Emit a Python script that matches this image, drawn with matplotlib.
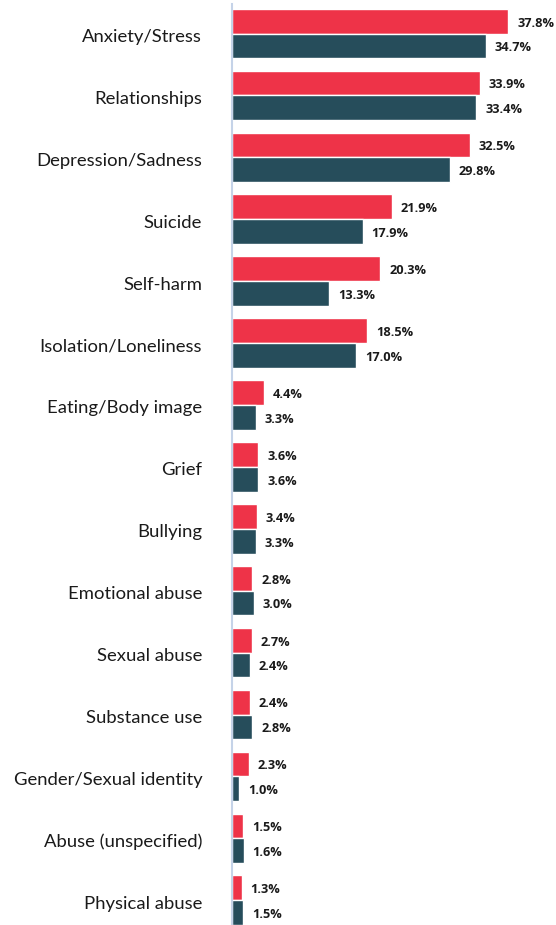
import numpy as np
import matplotlib.pyplot as plt

categories = ["Anxiety/Stress", "Relationships", "Depression/Sadness", "Suicide",
              "Self-harm", "Isolation/Loneliness", "Eating/Body image", "Grief",
              "Bullying", "Emotional abuse", "Sexual abuse", "Substance use",
              "Gender/Sexual identity", "Abuse (unspecified)", "Physical abuse"]
red_vals = [37.8, 33.9, 32.5, 21.9, 20.3, 18.5, 4.4, 3.6, 3.4, 2.8, 2.7, 2.4, 2.3, 1.5, 1.3]
teal_vals = [34.7, 33.4, 29.8, 17.9, 13.3, 17.0, 3.3, 3.6, 3.3, 3.0, 2.4, 2.8, 1.0, 1.6, 1.5]

red = "#EE3348"
teal = "#264D5B"

fig = plt.figure(figsize=(5.56, 9.25), dpi=100)
ax = fig.add_axes([232/556, 0, 1 - 232/556, 921/925])

y = np.arange(len(categories))
off = 0.2
h = 0.4
ax.barh(y - off, red_vals, height=h, color=red, edgecolor="white", linewidth=1)
ax.barh(y + off, teal_vals, height=h, color=teal, edgecolor="white", linewidth=1)

for i in range(len(categories)):
    ax.text(red_vals[i] + 1.2, y[i] - off + 0.03, f"{red_vals[i]:.1f}%", va="center",
            ha="left", fontsize=9.2, fontweight="bold", family="Open Sans", color="#1a1a1a")
    ax.text(teal_vals[i] + 1.2, y[i] + off + 0.03, f"{teal_vals[i]:.1f}%", va="center",
            ha="left", fontsize=9.2, fontweight="bold", family="Open Sans", color="#1a1a1a")
    # category label, right aligned left of the axis line
    ax.annotate(categories[i], xy=(0, y[i]), xycoords=("axes fraction", "data"),
                xytext=(-21.5, -2.5), textcoords="offset points", ha="right", va="center",
                fontsize=13.3, family="Lato", color="#1a1a1a")

ax.set_yticks([])
ax.set_xticks([])
ax.set_xlim(0, 44.3)
ax.set_ylim(14.40, -0.477)
for s in ["top", "right", "bottom"]:
    ax.spines[s].set_visible(False)
ax.spines["left"].set_color("#C5D3E8")
ax.spines["left"].set_linewidth(1.5)

fig.savefig("out.png", dpi=100)
